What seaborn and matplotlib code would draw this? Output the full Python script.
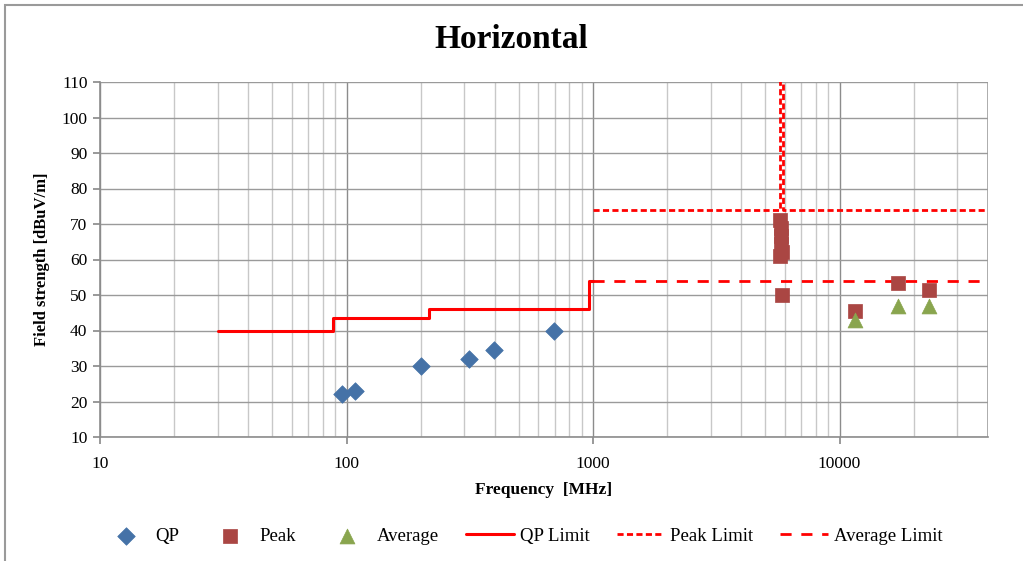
import matplotlib
matplotlib.use("Agg")
import matplotlib.pyplot as plt
import matplotlib.ticker as mticker
from matplotlib.patches import Rectangle
import seaborn as sns
import pandas as pd
import numpy as np

# ---- data ----
qp_freq = [96, 108, 200, 315, 398, 695]
qp_level = [22.0, 23.0, 30.0, 32.0, 34.5, 40.0]

peak_freq = [5745, 5760, 5785, 5800, 5825, 5745, 5850, 11500, 17250, 23000]
peak_level = [71.0, 69.0, 66.5, 64.5, 62.0, 61.0, 50.0, 45.5, 53.5, 51.5]

avg_freq = [11500, 17250, 23000]
avg_level = [43.0, 47.0, 47.0]

qp_limit_freq = [30, 88, 88, 216, 216, 960, 960, 1000]
qp_limit_level = [40, 40, 43.5, 43.5, 46, 46, 54, 54]

peak_limit_freq = [1000, 5725, 5725, 5875, 5875, 40000]
peak_limit_level = [74, 74, 200, 200, 74, 74]

avg_limit_freq = [1000, 40000]
avg_limit_level = [54, 54]

y_ticks = [10, 20, 30, 40, 50, 60, 70, 80, 90, 100, 110]
x_tick_labels = ["10", "100", "1000", "10000"]

sns.set_theme(style="white")
plt.rcParams['font.family'] = ['Liberation Serif', 'DejaVu Serif']
plt.rcParams['text.color'] = 'black'
plt.rcParams['axes.labelcolor'] = 'black'
plt.rcParams['xtick.color'] = 'black'
plt.rcParams['ytick.color'] = 'black'

fig = plt.figure(figsize=(10.23, 5.61), dpi=100)
ax = fig.add_axes([100/1023, 1-437/561, (988-100)/1023, (437-82)/561])

# grid
for dec in [10, 100, 1000, 10000]:
    for m in range(2, 10):
        v = dec*m
        if v <= 40000:
            ax.axvline(v, color="#c8c8c8", lw=1.0, zorder=0)
    ax.axvline(dec, color="#8c8c8c", lw=1.0, zorder=0)
ax.axvline(40000, color="#a0a0a0", lw=1.2, zorder=0)
for yv in y_ticks:
    ax.axhline(yv, color="#9a9a9a", lw=1.0, zorder=0)

red = "#FF0000"
sns.lineplot(x=qp_limit_freq, y=qp_limit_level, sort=False, estimator=None,
             color=red, lw=2.2, ax=ax, label="QP Limit", zorder=3)
sns.lineplot(x=peak_limit_freq, y=peak_limit_level, sort=False, estimator=None,
             color=red, lw=2.0, ax=ax, label="Peak Limit", zorder=3)
ax.lines[-1].set_dashes([2.2, 1.2])
sns.lineplot(x=avg_limit_freq, y=avg_limit_level, sort=False, estimator=None,
             color=red, lw=2.0, ax=ax, label="Average Limit", zorder=3)
ax.lines[-1].set_dashes([4, 3.5])

sns.scatterplot(x=qp_freq, y=qp_level, marker="D", s=80, color="#4572A7",
                edgecolor="#4572A7", linewidth=0.5, ax=ax, label="QP", zorder=4)
sns.scatterplot(x=peak_freq, y=peak_level, marker="s", s=110, color="#AA4643",
                edgecolor="#AA4643", linewidth=0.5, ax=ax, label="Peak", zorder=4)
sns.scatterplot(x=avg_freq, y=avg_level, marker="^", s=115, color="#89A54E",
                edgecolor="#89A54E", linewidth=0.5, ax=ax, label="Average", zorder=4)

ax.set_xscale("log")
ax.set_xlim(10, 40000)
ax.set_ylim(10, 110)
ax.set_yticks(y_ticks)
ax.set_xticks([10, 100, 1000, 10000])
ax.set_xticklabels(x_tick_labels)
ax.xaxis.set_minor_locator(mticker.NullLocator())
ax.tick_params(axis="both", labelsize=12.5, colors="black", length=0)
ax.tick_params(axis="y", direction="out", length=5, color="#8c8c8c", left=True, pad=4)
ax.tick_params(axis="x", direction="out", length=5, color="#8c8c8c", bottom=True, pad=9)
for s in ["top", "right"]:
    ax.spines[s].set_visible(False)
for s in ["left", "bottom"]:
    ax.spines[s].set_color("#8c8c8c")
    ax.spines[s].set_linewidth(1.2)

ax.set_xlabel("Frequency  [MHz]", fontsize=12.5, fontweight="bold", labelpad=7)
ax.set_ylabel("Field strength [dBuV/m]", fontsize=12, fontweight="bold", labelpad=8)
fig.suptitle("Horizontal", fontsize=24, fontweight="bold", y=1-40/561, va="center",
             color="black")

handles, labels = ax.get_legend_handles_labels()
order = ["QP", "Peak", "Average", "QP Limit", "Peak Limit", "Average Limit"]
hmap = dict(zip(labels, handles))
ax.get_legend().remove()
fig.legend([hmap[k] for k in order], order, loc="center", ncol=6,
           bbox_to_anchor=(522/1023, 1-536/561), frameon=False, fontsize=13.5,
           handlelength=2.55, columnspacing=1.45, handletextpad=0.3)

# figure border (chart area frame)
fig.patches.append(Rectangle((5/1023, -0.5), 2.0, 1.5 - 5/561, transform=fig.transFigure,
                             fill=False, edgecolor="#9a9a9a", lw=1.5, zorder=-1))

fig.savefig("out.png", dpi=100)
